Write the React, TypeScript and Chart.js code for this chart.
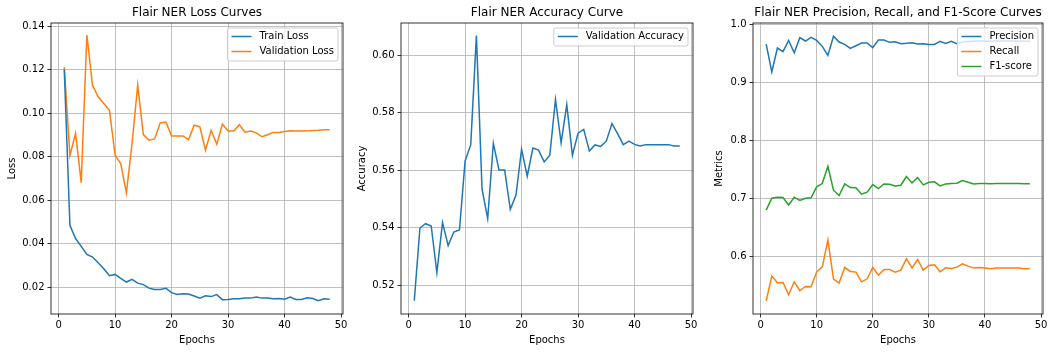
import React, { useEffect, useRef } from "react";
import { Chart, registerables } from "chart.js";

Chart.register(...registerables);

const epochs = [1, 2, 3, 4, 5, 6, 7, 8, 9, 10, 11, 12, 13, 14, 15, 16, 17, 18, 19, 20, 21, 22, 23, 24, 25, 26, 27, 28, 29, 30, 31, 32, 33, 34, 35, 36, 37, 38, 39, 40, 41, 42, 43, 44, 45, 46, 47, 48];

const trainLoss = [0.1200, 0.0484, 0.0423, 0.0387, 0.0350, 0.0338, 0.0312, 0.0284, 0.0252, 0.0258, 0.0240, 0.0223, 0.0235, 0.0218, 0.0211, 0.0195, 0.0189, 0.0189, 0.0194, 0.0174, 0.0166, 0.0169, 0.0168, 0.0159, 0.0149, 0.0160, 0.0156, 0.0165, 0.0142, 0.0143, 0.0146, 0.0146, 0.0149, 0.0149, 0.0154, 0.0149, 0.0149, 0.0146, 0.0147, 0.0144, 0.0154, 0.0143, 0.0143, 0.0151, 0.0147, 0.0137, 0.0146, 0.0144];

const valLoss = [0.1211, 0.0805, 0.0906, 0.0680, 0.1359, 0.1128, 0.1075, 0.1044, 0.1013, 0.0806, 0.0768, 0.0633, 0.0860, 0.1128, 0.0901, 0.0875, 0.0881, 0.0955, 0.0958, 0.0894, 0.0895, 0.0895, 0.0878, 0.0944, 0.0937, 0.0829, 0.0921, 0.0857, 0.0949, 0.0917, 0.0917, 0.0946, 0.0912, 0.0917, 0.0909, 0.0891, 0.0900, 0.0911, 0.0911, 0.0915, 0.0918, 0.0917, 0.0917, 0.0918, 0.0920, 0.0921, 0.0923, 0.0923];

const valAccuracy = [0.5146, 0.5399, 0.5414, 0.5406, 0.5244, 0.5418, 0.5338, 0.5385, 0.5392, 0.5632, 0.5689, 0.6068, 0.5534, 0.5432, 0.5694, 0.5601, 0.5601, 0.5464, 0.5513, 0.5673, 0.5579, 0.5677, 0.5670, 0.5629, 0.5652, 0.5846, 0.5695, 0.5828, 0.5652, 0.5729, 0.5742, 0.5667, 0.5688, 0.5683, 0.5701, 0.5762, 0.5727, 0.5689, 0.5701, 0.5690, 0.5684, 0.5689, 0.5689, 0.5689, 0.5689, 0.5689, 0.5684, 0.5684];

const precision = [0.9656, 0.9175, 0.9587, 0.9524, 0.9719, 0.9507, 0.9765, 0.9708, 0.9771, 0.9719, 0.9616, 0.9461, 0.9790, 0.9691, 0.9650, 0.9582, 0.9627, 0.9673, 0.9673, 0.9593, 0.9725, 0.9725, 0.9685, 0.9696, 0.9662, 0.9668, 0.9679, 0.9656, 0.9662, 0.9650, 0.9650, 0.9702, 0.9668, 0.9702, 0.9662, 0.9690, 0.9700, 0.9705, 0.9710, 0.9710, 0.9705, 0.9710, 0.9710, 0.9710, 0.9710, 0.9710, 0.9705, 0.9705];

const recall = [0.5237, 0.5662, 0.5547, 0.5553, 0.5341, 0.5564, 0.5410, 0.5484, 0.5479, 0.5736, 0.5822, 0.6281, 0.5610, 0.5542, 0.5810, 0.5742, 0.5731, 0.5564, 0.5616, 0.5810, 0.5679, 0.5777, 0.5777, 0.5731, 0.5765, 0.5960, 0.5805, 0.5948, 0.5765, 0.5845, 0.5857, 0.5736, 0.5805, 0.5794, 0.5817, 0.5874, 0.5834, 0.5800, 0.5811, 0.5800, 0.5788, 0.5800, 0.5800, 0.5800, 0.5800, 0.5800, 0.5788, 0.5788];

const f1Score = [0.6797, 0.7003, 0.7020, 0.7014, 0.6888, 0.7020, 0.6963, 0.7003, 0.7009, 0.7198, 0.7255, 0.7553, 0.7140, 0.7049, 0.7249, 0.7186, 0.7181, 0.7072, 0.7106, 0.7238, 0.7169, 0.7249, 0.7244, 0.7215, 0.7226, 0.7375, 0.7266, 0.7358, 0.7232, 0.7278, 0.7284, 0.7215, 0.7249, 0.7255, 0.7261, 0.7307, 0.7278, 0.7249, 0.7255, 0.7255, 0.7252, 0.7255, 0.7255, 0.7255, 0.7255, 0.7255, 0.7252, 0.7252];

const xTicks = [0, 10, 20, 30, 40, 50];
const lossTicks = [0.02, 0.04, 0.06, 0.08, 0.1, 0.12, 0.14];
const accTicks = [0.52, 0.54, 0.56, 0.58, 0.6];
const metricTicks = [0.6, 0.7, 0.8, 0.9, 1.0];

const BLUE = "#1f77b4";
const ORANGE = "#ff7f0e";
const GREEN = "#2ca02c";
const FONT = "'DejaVu Sans', sans-serif";

Chart.defaults.font.family = FONT;
Chart.defaults.color = "#000";

const decorPlugin = {
  id: "decor",
  afterDatasetsDraw(chart: any, _args: any, opts: any) {
    const { ctx, chartArea: a } = chart;
    ctx.save();
    // frame
    ctx.strokeStyle = "#000";
    ctx.lineWidth = 0.8;
    ctx.strokeRect(a.left, a.top, a.right - a.left, a.bottom - a.top);
    // title
    ctx.font = `12px ${FONT}`;
    ctx.fillStyle = "#000";
    ctx.textAlign = "center";
    ctx.textBaseline = "middle";
    ctx.fillText(opts.title, (a.left + a.right) / 2, 13);
    // legend
    ctx.font = `10px ${FONT}`;
    const items = chart.data.datasets;
    const textW = Math.max(...items.map((d: any) => ctx.measureText(d.label).width));
    const pad = 4;
    const handle = 20;
    const gap = 8;
    const rowH = 10;
    const spacing = 5;
    const w = pad + handle + gap + textW + pad;
    const h = pad * 2 + items.length * rowH + (items.length - 1) * spacing;
    const x0 = a.right - 5 - w;
    const y0 = a.top + 5;
    ctx.fillStyle = "rgba(255,255,255,0.8)";
    ctx.strokeStyle = "#cccccc";
    ctx.lineWidth = 1;
    ctx.beginPath();
    if (ctx.roundRect) ctx.roundRect(x0, y0, w, h, 2);
    else ctx.rect(x0, y0, w, h);
    ctx.fill();
    ctx.stroke();
    items.forEach((d: any, i: number) => {
      const cy = y0 + pad + rowH / 2 + i * (rowH + spacing) - 0.5;
      ctx.strokeStyle = d.borderColor;
      ctx.lineWidth = 1.5;
      ctx.beginPath();
      ctx.moveTo(x0 + pad, cy);
      ctx.lineTo(x0 + pad + handle, cy);
      ctx.stroke();
      ctx.fillStyle = "#000";
      ctx.textAlign = "left";
      ctx.textBaseline = "middle";
      ctx.fillText(d.label, x0 + pad + handle + gap, cy);
    });
    ctx.restore();
  },
};

type PanelCfg = {
  title: string;
  series: { label: string; values: number[]; color: string }[];
  yMin: number;
  yMax: number;
  yTicks: number[];
  yDigits: number;
  yTitle: string;
  yWidth: number;
  yTitlePad: number;
  rightPad: number;
};

function makeChart(canvas: HTMLCanvasElement, cfg: PanelCfg) {
  return new Chart(canvas, {
    type: "line",
    data: {
      datasets: cfg.series.map((s) => ({
        label: s.label,
        data: epochs.map((e, i) => ({ x: e, y: s.values[i] })),
        borderColor: s.color,
        backgroundColor: s.color,
        borderWidth: 1.5,
        pointRadius: 0,
        tension: 0,
        fill: false,
      })),
    },
    options: {
      responsive: false,
      animation: false,
      layout: { padding: { left: 0, right: cfg.rightPad, top: 23, bottom: 0 } },
      plugins: {
        legend: { display: false },
        title: { display: false },
        tooltip: { enabled: false },
        decor: { title: cfg.title },
      } as any,
      scales: {
        x: {
          type: "linear",
          min: -1.35,
          max: 50.35,
          afterBuildTicks: (s: any) => {
            s.ticks = xTicks.map((v) => ({ value: v }));
          },
          afterFit: (s: any) => {
            s.height = 38;
          },
          ticks: {
            autoSkip: false,
            maxRotation: 0,
            padding: 2,
            font: { size: 10 },
            color: "#000",
            callback: (v: any) => String(v),
          },
          grid: {
            color: "#b0b0b0",
            lineWidth: 0.8,
            drawTicks: true,
            tickLength: 3.5,
            tickColor: "#000",
            tickWidth: 0.8,
          },
          border: { display: false },
          title: {
            display: true,
            text: "Epochs",
            font: { size: 10 },
            color: "#000",
            padding: { top: 0, bottom: 6 },
          },
        },
        y: {
          type: "linear",
          min: cfg.yMin,
          max: cfg.yMax,
          afterBuildTicks: (s: any) => {
            s.ticks = cfg.yTicks.map((v) => ({ value: v }));
          },
          afterFit: (s: any) => {
            s.width = cfg.yWidth;
          },
          ticks: {
            autoSkip: false,
            padding: 3,
            font: { size: 10 },
            color: "#000",
            callback: (v: any) => Number(v).toFixed(cfg.yDigits),
          },
          grid: {
            color: "#b0b0b0",
            lineWidth: 0.8,
            drawTicks: true,
            tickLength: 3.5,
            tickColor: "#000",
            tickWidth: 0.8,
          },
          border: { display: false },
          title: {
            display: true,
            text: cfg.yTitle,
            font: { size: 10 },
            color: "#000",
            padding: { top: cfg.yTitlePad, bottom: 0 },
          },
        },
      },
    },
    plugins: [decorPlugin],
  } as any);
}

export default function App() {
  const r1 = useRef<HTMLCanvasElement>(null);
  const r2 = useRef<HTMLCanvasElement>(null);
  const r3 = useRef<HTMLCanvasElement>(null);

  useEffect(() => {
    const c1 = makeChart(r1.current!, {
      title: "Flair NER Loss Curves",
      series: [
        { label: "Train Loss", values: trainLoss, color: BLUE },
        { label: "Validation Loss", values: valLoss, color: ORANGE },
      ],
      yMin: 0.0076,
      yMax: 0.1414,
      yTicks: lossTicks,
      yDigits: 2,
      yTitle: "Loss",
      yWidth: 51,
      yTitlePad: 6,
      rightPad: 7,
    });
    const c2 = makeChart(r2.current!, {
      title: "Flair NER Accuracy Curve",
      series: [{ label: "Validation Accuracy", values: valAccuracy, color: BLUE }],
      yMin: 0.51,
      yMax: 0.6112,
      yTicks: accTicks,
      yDigits: 2,
      yTitle: "Accuracy",
      yWidth: 51,
      yTitlePad: 6,
      rightPad: 7,
    });
    const c3 = makeChart(r3.current!, {
      title: "Flair NER Precision, Recall, and F1-Score Curves",
      series: [
        { label: "Precision", values: precision, color: BLUE },
        { label: "Recall", values: recall, color: ORANGE },
        { label: "F1-score", values: f1Score, color: GREEN },
      ],
      yMin: 0.501,
      yMax: 1.0018,
      yTicks: metricTicks,
      yDigits: 1,
      yTitle: "Metrics",
      yWidth: 53,
      yTitlePad: 13,
      rightPad: 12,
    });
    return () => {
      c1.destroy();
      c2.destroy();
      c3.destroy();
    };
  }, []);

  const base: React.CSSProperties = { position: "absolute", top: 0 };
  return (
    <div style={{ position: "fixed", left: 0, top: 0, width: 1055, height: 352, background: "#fff" }}>
      <canvas ref={r1} width={350} height={352} style={{ ...base, left: 0, width: 350, height: 352 }} />
      <canvas ref={r2} width={350} height={352} style={{ ...base, left: 350, width: 350, height: 352 }} />
      <canvas ref={r3} width={355} height={352} style={{ ...base, left: 700, width: 355, height: 352 }} />
    </div>
  );
}
